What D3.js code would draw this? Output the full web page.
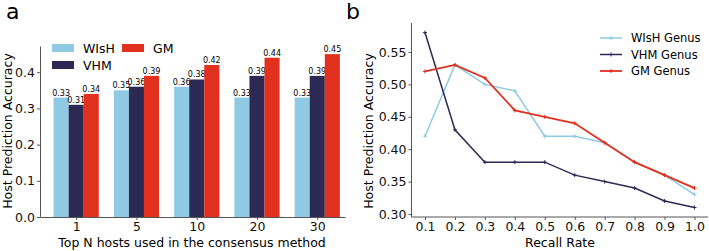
<!DOCTYPE html>
<html>
<head>
<meta charset="utf-8">
<script src="https://unpkg.com/d3@7/dist/d3.min.js"></script>
<style>
  body { margin: 0; background: #fff; }
  svg { font-family: "DejaVu Sans", sans-serif; }
</style>
</head>
<body>
<svg id="fig" width="709" height="251"></svg>
<script>
// panel a data
const hosts = ["1", "5", "10", "20", "30"];
const wishTop = [0.33, 0.35, 0.36, 0.33, 0.33];
const vhmTop = [0.31, 0.36, 0.38, 0.39, 0.39];
const gmTop = [0.34, 0.39, 0.42, 0.44, 0.45];

// panel b data
const recall = [0.1, 0.2, 0.3, 0.4, 0.5, 0.6, 0.7, 0.8, 0.9, 1.0];
const wishGenus = [0.42, 0.53, 0.50, 0.49, 0.42, 0.42, 0.41, 0.38, 0.36, 0.33];
const vhmGenus = [0.58, 0.43, 0.38, 0.38, 0.38, 0.36, 0.35, 0.34, 0.32, 0.31];
const gmGenus = [0.52, 0.53, 0.51, 0.46, 0.45, 0.44, 0.41, 0.38, 0.36, 0.34];

const colors = { wish: "#8ecae3", vhm: "#2c2a55", gm: "#e2301f" };
const spineColor = "#555";

const svg = d3.select("#fig");

// panel letters
svg.append("text").attr("x", 6).attr("y", 19).attr("font-size", "22px").text("a");
svg.append("text").attr("x", 346).attr("y", 19).attr("font-size", "22px").text("b");

// ---------- panel a ----------
const ga = svg.append("g");
const xa = d3.scaleLinear().domain([-0.6, 4.46]).range([40, 345]);
const ya = d3.scaleLinear().domain([0, 0.4725]).range([217, 46]);

const series = [
  { key: "WIsH", vals: wishTop, color: colors.wish, off: -0.25 },
  { key: "VHM", vals: vhmTop, color: colors.vhm, off: 0 },
  { key: "GM", vals: gmTop, color: colors.gm, off: 0.25 }
];
const bw = 0.25;

series.forEach(s => {
  ga.selectAll(null)
    .data(s.vals)
    .join("rect")
    .attr("x", (d, i) => xa(i + s.off - bw / 2))
    .attr("width", xa(bw) - xa(0))
    .attr("y", d => ya(d))
    .attr("height", d => ya(0) - ya(d))
    .attr("fill", s.color);
  ga.selectAll(null)
    .data(s.vals)
    .join("text")
    .attr("x", (d, i) => xa(i + s.off))
    .attr("y", d => ya(d) - 2)
    .attr("text-anchor", "middle")
    .attr("font-size", "8px")
    .text(d => d.toFixed(2));
});

const xAxisA = ga.append("g")
  .attr("transform", "translate(0,217)")
  .call(d3.axisBottom(xa).tickValues([0, 1, 2, 3, 4]).tickFormat(i => hosts[i]).tickSize(3).tickPadding(2).tickSizeOuter(0));
const yAxisA = ga.append("g")
  .attr("transform", "translate(40,0)")
  .call(d3.axisLeft(ya).tickValues([0, 0.1, 0.2, 0.3, 0.4]).tickFormat(d3.format(".1f")).tickSize(3).tickPadding(2).tickSizeOuter(0));
[xAxisA, yAxisA].forEach(ax => {
  ax.selectAll("text").attr("font-size", "12.5px").attr("fill", "#111").attr("font-family", "DejaVu Sans");
  ax.selectAll("line").attr("stroke", spineColor);
  ax.select(".domain").attr("stroke", spineColor);
});

ga.append("text")
  .attr("x", 192).attr("y", 247)
  .attr("text-anchor", "middle").attr("font-size", "12.5px")
  .text("Top N hosts used in the consensus method");
ga.append("text")
  .attr("transform", "translate(12,131) rotate(-90)")
  .attr("text-anchor", "middle").attr("font-size", "12.5px")
  .text("Host Prediction Accuracy");

// legend a
const legA = [
  { key: "WIsH", color: colors.wish, x: 52, y: 44 },
  { key: "VHM", color: colors.vhm, x: 52, y: 61 },
  { key: "GM", color: colors.gm, x: 122, y: 44 }
];
legA.forEach(l => {
  ga.append("rect").attr("x", l.x).attr("y", l.y).attr("width", 22).attr("height", 8).attr("fill", l.color);
  ga.append("text").attr("x", l.x + 31).attr("y", l.y + 9).attr("font-size", "12.5px").text(l.key);
});

// ---------- panel b ----------
const gb = svg.append("g");
const xb = d3.scaleLinear().domain([0.055, 1.045]).range([411.5, 708]);
const yb = d3.scaleLinear().domain([0.30, 0.55]).range([214, 52]);

const lines = [
  { key: "WIsH Genus", vals: wishGenus, color: colors.wish, w: 1.5 },
  { key: "VHM Genus", vals: vhmGenus, color: colors.vhm, w: 1.5 },
  { key: "GM Genus", vals: gmGenus, color: colors.gm, w: 1.8 }
];
const line = d3.line().x((d, i) => xb(recall[i])).y(d => yb(d));

lines.forEach(s => {
  gb.append("path")
    .attr("d", line(s.vals))
    .attr("fill", "none")
    .attr("stroke", s.color)
    .attr("stroke-width", s.w);
  gb.selectAll(null)
    .data(s.vals)
    .join("path")
    .attr("d", (d, i) => {
      const x = xb(recall[i]), y = yb(d);
      return `M${x - 2},${y}H${x + 2}M${x},${y - 2}V${y + 2}`;
    })
    .attr("stroke", s.color)
    .attr("stroke-width", 1);
});

const xAxisB = gb.append("g")
  .attr("transform", "translate(0,217)")
  .call(d3.axisBottom(xb).tickValues(recall).tickFormat(d3.format(".1f")).tickSize(3).tickPadding(2).tickSizeOuter(0));
const yAxisB = gb.append("g")
  .attr("transform", "translate(411.5,0)")
  .call(d3.axisLeft(yb).tickValues([0.30, 0.35, 0.40, 0.45, 0.50, 0.55]).tickFormat(d3.format(".2f")).tickSize(3).tickPadding(2).tickSizeOuter(0));
xAxisB.select(".domain").attr("d", "M411.5,0H708");
yAxisB.select(".domain").attr("d", "M0,217V23");
[xAxisB, yAxisB].forEach(ax => {
  ax.selectAll("text").attr("font-size", "12.5px").attr("fill", "#111").attr("font-family", "DejaVu Sans");
  ax.selectAll("line").attr("stroke", spineColor);
  ax.select(".domain").attr("stroke", spineColor);
});

gb.append("text")
  .attr("x", 560).attr("y", 247)
  .attr("text-anchor", "middle").attr("font-size", "12.5px")
  .text("Recall Rate");
gb.append("text")
  .attr("transform", "translate(373,131) rotate(-90)")
  .attr("text-anchor", "middle").attr("font-size", "12.5px")
  .text("Host Prediction Accuracy");

// legend b
lines.forEach((s, i) => {
  const y = 38 + i * 16.5;
  gb.append("line").attr("x1", 600).attr("x2", 622).attr("y1", y).attr("y2", y)
    .attr("stroke", s.color).attr("stroke-width", s.w);
  gb.append("path").attr("d", `M609,${y}H613M611,${y - 2}V${y + 2}`).attr("stroke", s.color);
  gb.append("text").attr("x", 631).attr("y", y + 4).attr("font-size", "11.5px").text(s.key);
});
</script>
</body>
</html>
